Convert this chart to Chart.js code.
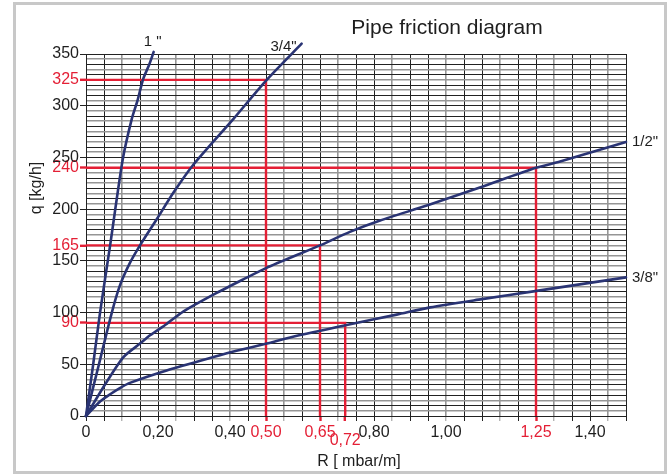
<!DOCTYPE html>
<html>
<head>
<meta charset="utf-8">
<title>Pipe friction diagram</title>
<script src="https://cdn.jsdelivr.net/npm/chart.js@4.4.0/dist/chart.umd.min.js"></script>
<style>
    html, body { margin: 0; padding: 0; background: #fff; }
    #wrap { width: 672px; height: 476px; }
</style>
</head>
<body>
<div id="wrap"><canvas id="frictionChart" width="672" height="476"></canvas></div>
<script>
// Curves: R [mbar/m] against q [kg/h]
const curveNames = ['1 "', '3/4"', '1/2"', '3/8"'];

const r1in = [0, 0.020, 0.039, 0.067, 0.102, 0.127, 0.143, 0.159, 0.176, 0.188];
const q1in = [0, 50, 100, 165, 248, 287, 305, 326, 340, 352];

const r34 = [0, 0.036, 0.071, 0.094, 0.122, 0.150, 0.196, 0.243, 0.296, 0.409, 0.502, 0.599];
const q34 = [0, 50, 99, 126, 148, 165, 190, 216, 242, 287, 325, 360];

const r12 = [0, 0.052, 0.104, 0.150, 0.178, 0.224, 0.270, 0.363, 0.442, 0.500, 0.650, 0.733, 0.817, 0.951, 1.094, 1.250, 1.317, 1.500];
const q12 = [0, 30, 57, 70, 78, 89, 101, 119, 133, 143, 165, 178, 189, 204, 221, 240, 246, 265];

const r38 = [0, 0.039, 0.067, 0.094, 0.122, 0.224, 0.354, 0.418, 0.502, 0.567, 0.724, 0.863, 0.956, 1.100, 1.252, 1.500];
const q38 = [0, 14, 21, 27, 32, 44, 57, 63, 70, 76, 88, 98, 105, 113, 121, 134];

// Red reading examples (R where each flow meets its curve)
const refR = [0.50, 0.65, 0.72, 1.25];
const refQ = [325, 165, 90, 240];

// Axis tick labels
const xTickLabels = [0, 0.20, 0.40, 0.80, 1.00, 1.40];
const yTickLabels = [0, 50, 100, 150, 200, 250, 300, 350];

const chartTitle = 'Pipe friction diagram';
const xTitle = 'R [ mbar/m]';
const yTitle = 'q [kg/h]';

document.addEventListener('DOMContentLoaded', function () {
    const canvas = document.getElementById('frictionChart');
    if (!canvas) return;

    const NAVY = '#2a3474';
    const RED = '#e41f35';
    const INK = '#1e1e1e';
    const GRID_DARK = '#222222';
    const GRID_GREY = '#959595';
    const FONT = '"Liberation Sans", Arial, Helvetica, sans-serif';

    const xStep = 0.05, xMax = 1.5;
    const yStep = 5, yMax = 350;

    const near = (a, b) => Math.abs(a - b) < 1e-6;
    const inList = (list, v) => list.some(x => near(x, v));
    const onXGrid = v => near(Math.round(v / xStep) * xStep, v);
    const fmtR = v => v === 0 ? '0' : v.toFixed(2).replace('.', ',');

    const pts = (xs, ys) => xs.map((x, i) => ({ x: x, y: ys[i] }));

    const curves = [[r1in, q1in], [r34, q34], [r12, q12], [r38, q38]].map((c, i) => ({
        label: curveNames[i],
        data: pts(c[0], c[1]),
        borderColor: NAVY,
        borderWidth: 2.6,
        borderJoinStyle: 'round',
        borderCapStyle: 'round',
        tension: 0.25,
        pointRadius: 0,
        clip: false
    }));

    const refLines = refR.map((r, i) => ({
        label: 'ref ' + refQ[i],
        data: [{ x: 0, y: refQ[i] }, { x: r, y: refQ[i] }, { x: r, y: 0 }],
        borderColor: RED,
        borderWidth: 2.4,
        tension: 0,
        pointRadius: 0,
        clip: false
    }));

    // tick values: the grid every 0.05 / 5 plus the red readings off the grid
    const xTicks = [];
    for (let k = 0; k <= Math.round(xMax / xStep); k++) xTicks.push(+(k * xStep).toFixed(2));
    refR.forEach(r => { if (!inList(xTicks, r)) xTicks.push(r); });
    xTicks.sort((a, b) => a - b);

    const yTicks = [];
    for (let v = 0; v <= yMax; v += yStep) yTicks.push(v);

    const xGrey = v => Math.round(v / xStep) % 3 === 2;
    const yGrey = v => (v / yStep) % 2 === 1;

    const xGridColor = ctx => {
        if (!ctx.tick) return GRID_DARK;
        const v = ctx.tick.value;
        if (!onXGrid(v)) return 'rgba(0,0,0,0)';
        return xGrey(v) ? GRID_GREY : GRID_DARK;
    };
    const xGridWidth = ctx => ctx.tick && xGrey(ctx.tick.value) ? 1.6 : 1;
    const yGridColor = ctx => ctx.tick && yGrey(ctx.tick.value) ? GRID_GREY : GRID_DARK;
    const yGridWidth = ctx => ctx.tick && yGrey(ctx.tick.value) ? 1.6 : 1;

    const decor = {
        id: 'decor',
        beforeDraw(chart) {
            const c = chart.ctx;
            c.save();
            c.fillStyle = '#fff';
            c.fillRect(0, 0, chart.width, chart.height);
            c.strokeStyle = '#c8c8c8';
            c.lineWidth = 3;
            c.strokeRect(14.5, 3.5, 651, 469);
            c.restore();
        },
        afterDraw(chart) {
            const c = chart.ctx;
            const xs = chart.scales.x, ys = chart.scales.y, a = chart.chartArea;
            c.save();
            c.fillStyle = INK;
            c.textBaseline = 'middle';

            c.font = '21px ' + FONT;
            c.textAlign = 'center';
            c.fillText(chartTitle, 447, 28);

            c.font = '16px ' + FONT;
            c.fillText(xTitle, (a.left + a.right) / 2 + 3, a.bottom + 46);

            c.save();
            c.translate(37, 188);
            c.rotate(-Math.PI / 2);
            c.fillText(yTitle, 0, 0);
            c.restore();

            // curve names next to the curve ends
            const offs = [[-1, -10, 'center'], [-5, 3, 'right'], [6, 0, 'left'], [6, 0, 'left']];
            c.font = '15px ' + FONT;
            curves.forEach((ds, i) => {
                const last = ds.data[ds.data.length - 1];
                const px = xs.getPixelForValue(last.x);
                const py = ys.getPixelForValue(last.y);
                c.textAlign = offs[i][2];
                c.fillText(ds.label, px + offs[i][0], py + offs[i][1]);
            });
            c.restore();
        }
    };

    new Chart(canvas, {
        type: 'line',
        data: { datasets: curves.concat(refLines) },
        options: {
            responsive: false,
            animation: false,
            events: [],
            layout: { padding: { left: 0, top: 54, right: 46, bottom: 0 } },
            plugins: {
                legend: { display: false },
                title: { display: false },
                tooltip: { enabled: false }
            },
            scales: {
                x: {
                    type: 'linear',
                    min: 0,
                    max: xMax,
                    afterBuildTicks: s => { s.ticks = xTicks.map(v => ({ value: v })); },
                    afterFit: s => { s.height = 60; },
                    border: { display: true, color: GRID_DARK, width: 1 },
                    grid: {
                        color: xGridColor,
                        lineWidth: xGridWidth,
                        drawTicks: true,
                        tickLength: 5,
                        tickColor: ctx => ctx.tick && inList(refR, ctx.tick.value) ? RED : xGridColor(ctx),
                        tickWidth: ctx => ctx.tick && inList(refR, ctx.tick.value) ? 2.4 : 1
                    },
                    ticks: {
                        autoSkip: false,
                        maxRotation: 0,
                        minRotation: 0,
                        padding: 2,
                        color: ctx => ctx.tick && inList(refR, ctx.tick.value) ? RED : INK,
                        font: ctx => {
                            const offGrid = ctx.tick && !onXGrid(ctx.tick.value);
                            return { family: FONT, size: 16, lineHeight: offGrid ? 0.72 : 1.15 };
                        },
                        callback: function (value) {
                            if (inList(refR, value)) {
                                return onXGrid(value) ? fmtR(value) : ['', fmtR(value)];
                            }
                            return inList(xTickLabels, value) ? fmtR(value) : '';
                        }
                    }
                },
                y: {
                    type: 'linear',
                    min: 0,
                    max: yMax,
                    afterBuildTicks: s => { s.ticks = yTicks.map(v => ({ value: v })); },
                    afterFit: s => { s.width = 86; },
                    border: { display: true, color: GRID_DARK, width: 1 },
                    grid: {
                        color: yGridColor,
                        lineWidth: yGridWidth,
                        drawTicks: true,
                        tickLength: 6,
                        tickColor: ctx => {
                            if (!ctx.tick) return 'rgba(0,0,0,0)';
                            if (inList(refQ, ctx.tick.value)) return RED;
                            return inList(yTickLabels, ctx.tick.value) ? GRID_DARK : 'rgba(0,0,0,0)';
                        },
                        tickWidth: ctx => ctx.tick && inList(refQ, ctx.tick.value) ? 2.4 : 1
                    },
                    ticks: {
                        autoSkip: false,
                        padding: 1,
                        font: { family: FONT, size: 16 },
                        color: ctx => ctx.tick && inList(refQ, ctx.tick.value) ? RED : INK,
                        callback: function (value) {
                            if (inList(refQ, value) || inList(yTickLabels, value)) return String(value);
                            return '';
                        }
                    }
                }
            }
        },
        plugins: [decor]
    });
});
</script>
</body>
</html>
